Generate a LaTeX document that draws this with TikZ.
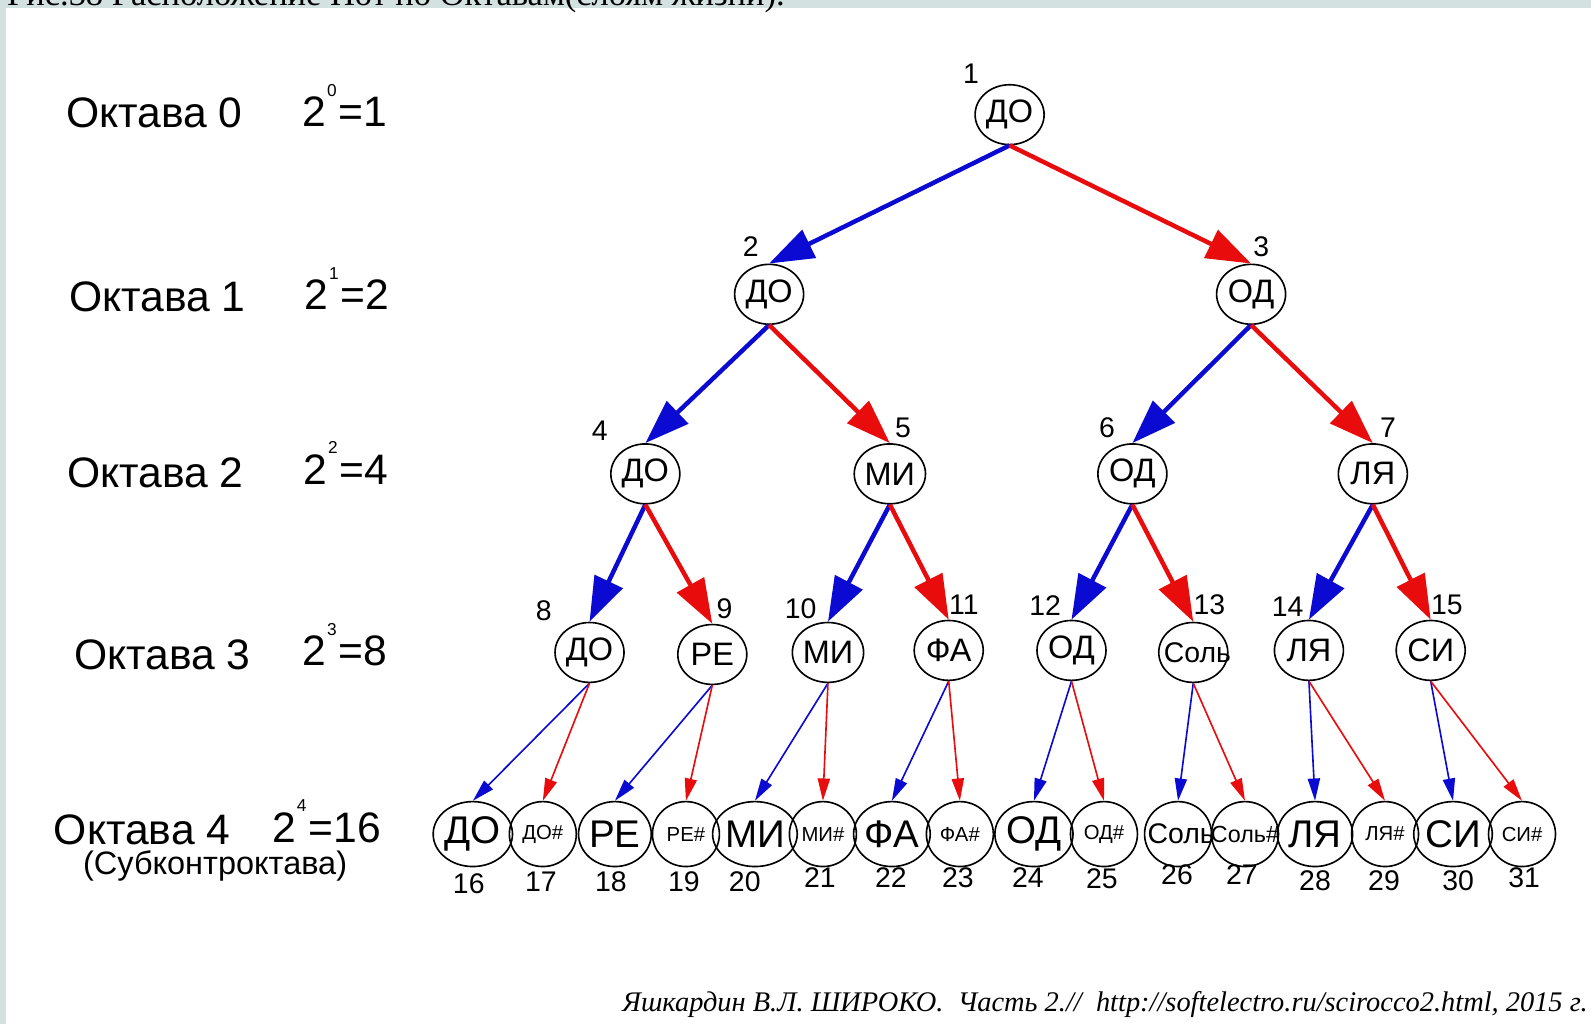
\documentclass[tikz,border=0pt]{standalone}
\usepackage{fontspec}
\setmainfont{Liberation Sans}
\newfontfamily\capfont{Liberation Serif}
\usetikzlibrary{shapes.geometric,arrows.meta}
\definecolor{bandgray}{RGB}{212,225,225}
\definecolor{leftblue}{RGB}{10,10,210}
\definecolor{rightred}{RGB}{232,12,12}
\newcommand{\fsz}[1]{\fontsize{#1}{#1}\selectfont}
\newcommand{\pw}[2]{2\kern0.3pt\raisebox{15pt}{\fsz{8.5}#1}\kern1pt=#2}
\newcommand{\wide}[2]{\makebox[0pt]{\fsz{#1}#2}}

\begin{document}
\begin{tikzpicture}[x=0.5pt,y=-0.5pt,
    note/.style={draw,ellipse,line width=0.8pt,minimum width=34pt,minimum height=29.5pt,inner sep=0pt,font=\fsz{16}},
    low/.style={draw,ellipse,line width=0.8pt,minimum width=33pt,minimum height=32pt,inner sep=0pt,font=\fsz{19}},
    num/.style={font=\fsz{14}},
    octave/.style={font=\fsz{21},anchor=base},
    bigarr/.style={line width=2.2pt,-{Triangle[length=22pt,width=15pt]}},
    smallarr/.style={line width=0.8pt,-{Triangle[length=11pt,width=6pt]}}]
\fill[bandgray] (0,0) rectangle (1568,1009);
\fill[white] (6,8) rectangle (1568,1009);
\useasboundingbox (0,0) rectangle (1568,1009);
\node[anchor=base west,font=\capfont\fsz{17}] (caption) at (0,5) {Рис.38 Расположение Нот по Октавам(слоям жизни).};

% octaves on the left
\foreach \k/\x/\y/\px/\py/\v in {0/152/126/340/125/1, 1/155/307/342/305/2, 2/153/480/341/477/4,
    3/160/660/340/656/8, 4/140/832/322/830/16} {
  \node[octave] (oct\k) at (\x,\y) {Октава \k};
  \node[octave] (pow\k) at (\px,\py) {\pw{\k}{\v}};
}
\node[font=\fsz{16}] (sub) at (212,853) {(Субконтроктава)};

% tree
\foreach \i/\x/\y/\t in {1/995/113/ДО, 2/758/290/ДО, 3/1233/290/ОД, 4/636/467/ДО, 5/877/467/МИ,
    6/1116/467/ОД, 7/1353/467/ЛЯ, 8/581/643/ДО, 9/702/645/РЕ, 10/816/643/МИ, 11/935/641/ФА,
    12/1056/641/ОД, 13/1176/643/{\wide{14}{\kern4pt Соль}}, 14/1290/641/ЛЯ, 15/1410/641/СИ}
  \node[note] (n\i) at (\x,\y) {\t};
\foreach \i/\x/\y in {1/957/73, 2/740/243, 3/1243/243, 4/591/424, 5/890/422, 6/1091/422, 7/1368/422,
    8/536/602, 9/714/600, 10/789/600, 11/950/596, 12/1030/597, 13/1192/596, 14/1269/598, 15/1426/596}
  \node[num] (lbl\i) at (\x,\y) {\i};
\foreach \i/\x/\t in {16/466/ДО, 17/535/{\fsz{10}ДО\#}, 18/606/РЕ, 19/676/{\fsz{10}РЕ\#},
    20/744/МИ, 21/811/{\fsz{10}МИ\#}, 22/879/ФА, 23/946/{\fsz{10}ФА\#}, 24/1019/ОД,
    25/1088/{\fsz{10}ОД\#}, 26/1161/{\wide{14}{\kern3pt Соль}}, 27/1227/{\wide{11.5}{Соль\#}}, 28/1296/ЛЯ,
    29/1365/{\fsz{10}ЛЯ\#}, 30/1432/СИ, 31/1500/{\fsz{10}СИ\#}}
  \node[low] (n\i) at (\x,822) {\t};
\foreach \i/\x/\y in {16/462/871, 17/533/869, 18/602/869, 19/674/869, 20/734/869, 21/808/865,
    22/878/865, 23/944/865, 24/1013/865, 25/1086/866, 26/1160/862, 27/1224/862, 28/1296/868,
    29/1364/868, 30/1437/868, 31/1502/865}
  \node[num] (lbl\i) at (\x,\y) {\i};

\foreach \i in {1,...,15} {
  \pgfmathtruncatemacro\kidl{2*\i}
  \pgfmathtruncatemacro\kidr{2*\i+1}
  \ifnum\i<8
    \draw[bigarr,leftblue] (n\i.south) -- (n\kidl.north);
    \draw[bigarr,rightred] (n\i.south) -- (n\kidr.north);
  \else
    \draw[smallarr,leftblue] (n\i.south) -- (n\kidl.north);
    \draw[smallarr,rightred] (n\i.south) -- (n\kidr.north);
  \fi
}

\node[anchor=base east,inner sep=0pt,font=\capfont\itshape\fsz{14}] (credit) at (1565,997)
  {Яшкардин В.Л. ШИРОКО.\ \ Часть 2.//\ \ http://softelectro.ru/scirocco2.html, 2015 г.};
\end{tikzpicture}
\end{document}
